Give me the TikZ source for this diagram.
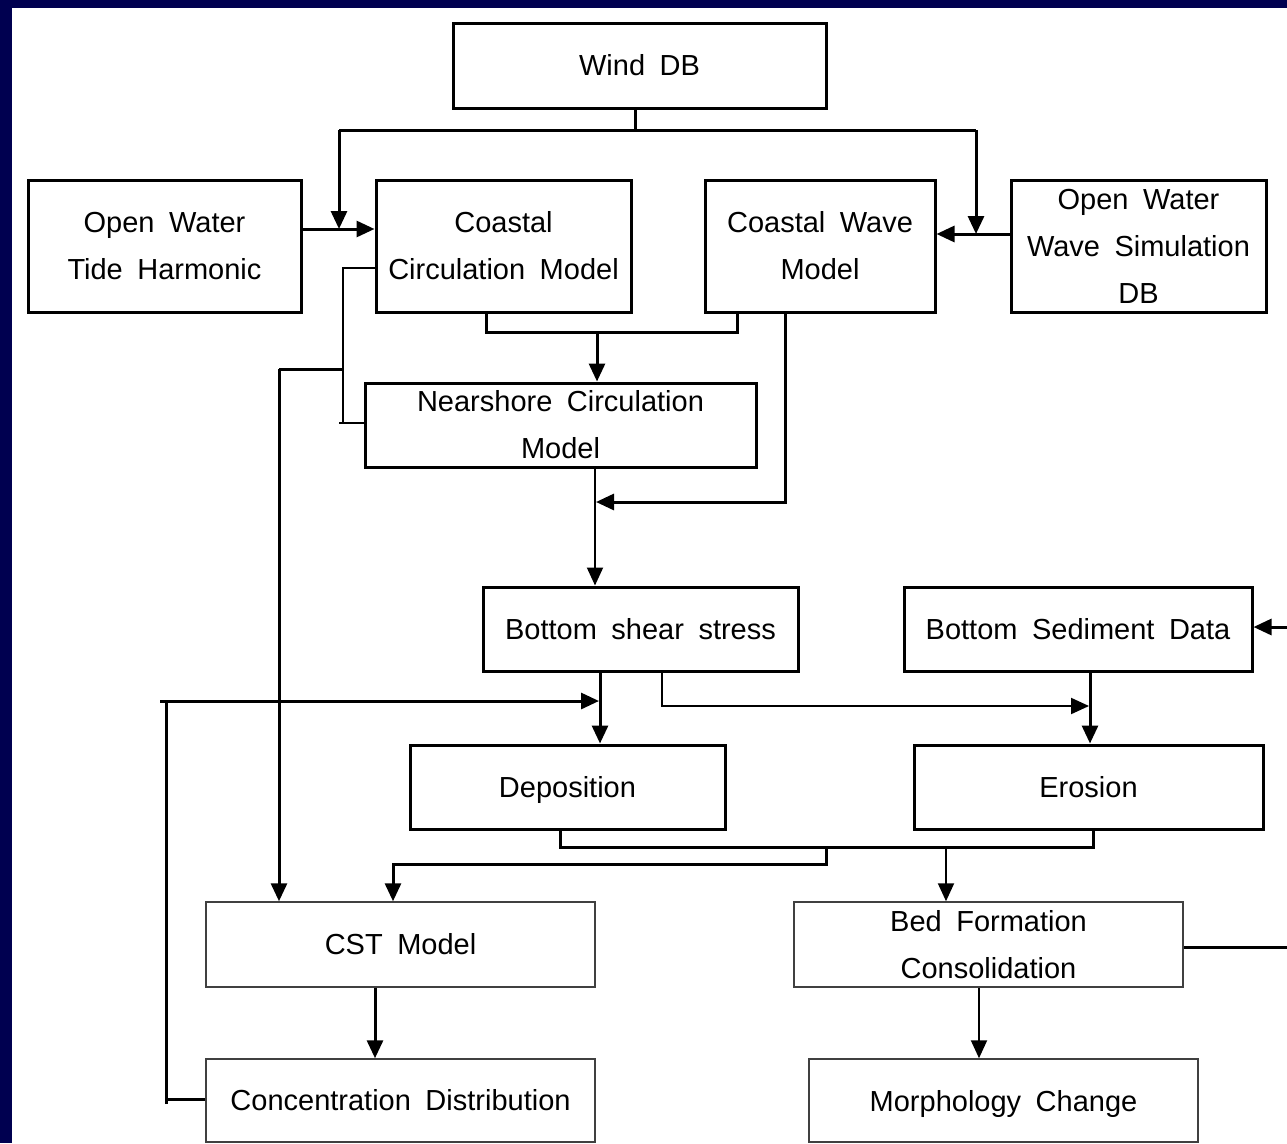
\documentclass[tikz,border=0pt]{standalone}
\usepackage{fontspec}
\setmainfont[WordSpace=1.8]{Liberation Sans}
\usetikzlibrary{arrows.meta}
\definecolor{navy}{RGB}{0,0,80}
\begin{document}
\begin{tikzpicture}[x=1pt,y=-1pt,
  every node/.style={font=\fontsize{29}{47}\selectfont},
  tbox/.style={draw=black,line width=3pt,fill=white,inner sep=0pt,align=center},
  lbox/.style={draw=black!75,line width=1.5pt,fill=white,inner sep=0pt,align=center},
  thk/.style={line width=3pt},
  thn/.style={line width=2pt},
  arr/.style={-{Triangle[length=18pt,width=16pt]}}]
\useasboundingbox (0,0) rectangle (1287,1143);
\fill[navy] (0,0) rectangle (1287,1143);
\fill[white] (12,8) rectangle (1287,1143);
% nodes
\node[tbox,minimum width=373,minimum height=85] (wind) at (639.5,65.5) {Wind DB};
\node[tbox,minimum width=273,minimum height=132] (tide) at (164.5,246) {Open Water\\Tide Harmonic};
\node[tbox,minimum width=255,minimum height=132] (ccm) at (503.5,246) {Coastal\\Circulation Model};
\node[tbox,minimum width=230,minimum height=132] (cwm) at (820,246) {Coastal Wave\\Model};
\node[tbox,minimum width=255,minimum height=132] (owws) at (1138.5,246) {Open Water\\Wave Simulation\\DB};
\node[tbox,minimum width=391,minimum height=84] (near) at (560.5,425) {Nearshore Circulation\\Model};
\node[tbox,minimum width=315,minimum height=84] (bss) at (640.5,629) {Bottom shear stress};
\node[tbox,minimum width=348,minimum height=84] (bsd) at (1078,629) {Bottom Sediment Data};
\node[tbox,minimum width=315,minimum height=84,text depth=0pt] (dep) at (567.5,787) {Deposition};
\node[tbox,minimum width=349,minimum height=84,text depth=0pt] (ero) at (1088.5,787) {Erosion};
\node[lbox,minimum width=389,minimum height=85] (cst) at (400.5,944.5) {CST Model};
\node[lbox,minimum width=389,minimum height=83] (cd) at (400.5,1100.5) {Concentration Distribution};
\node[lbox,minimum width=389,minimum height=85] (bfc) at (988.5,944.5) {Bed Formation\\Consolidation};
\node[lbox,minimum width=389,minimum height=83,text depth=0pt] (mc) at (1003.5,1100.5) {Morphology Change};
% free ends
\coordinate (wj) at (635,130);
\coordinate (wl) at (339,130);
\coordinate (wr) at (976,130);
\coordinate (redge1) at (1287,627);
\coordinate (redge2) at (1287,947);
% wind distribution
\draw[thk] (wj |- wind.south) -- (wj);
\draw[thk] (wl) -- (wr);
\draw[thk,arr] (wl) -- (339,229);
\draw[thk,arr] (wr) -- (976,234);
% tide -> ccm, owws -> cwm
\draw[thk,arr] (tide.east |- 0,229) -- (ccm.west |- 0,229);
\draw[thk,arr] (owws.west |- 0,234) -- (cwm.east |- 0,234);
% ccm & cwm -> nearshore
\draw[thk] (486,0 |- ccm.south) -- (486,332) -- (737,332) -- (737,0 |- cwm.south);
\draw[thk,arr] (597,332) -- (597,0 |- near.north);
% cwm -> bss junction
\draw[thk,arr] (785,0 |- cwm.south) -- (785,502) -- (596,502);
\draw[thn,arr] (595,0 |- near.south) -- (595,0 |- bss.north);
% ccm left -> nearshore & cst
\draw[thn] (ccm.west |- 0,268) -- (343,268) -- (343,423) -- (near.west |- 0,423);
\draw[thn] (339,423) -- (343,423);
\draw[thk] (343,369) -- (279,369);
\draw[thk,arr] (279,369) -- (279,0 |- cst.north);
% bss -> deposition, feedback from cd
\draw[thk,arr] (600,0 |- bss.south) -- (600,0 |- dep.north);
\draw[thk] (cd.west |- 0,1099) -- (166,1099);
\draw[thk] (166,1104) -- (166,701);
\draw[thk,arr] (160,701) -- (599,701);
% bss -> erosion, bsd -> erosion
\draw[thn,arr] (662,0 |- bss.south) -- (662,706) -- (1089,706);
\draw[thk,arr] (1090,0 |- bsd.south) -- (1090,0 |- ero.north);
\draw[thk,arr] (redge1) -- (bsd.east |- redge1);
% deposition/erosion -> cst & bfc
\draw[thk] (560,0 |- dep.south) -- (560,847) -- (1093,847) -- (1093,0 |- ero.south);
\draw[thk,arr] (826,847) -- (826,864) -- (393,864) -- (393,0 |- cst.north);
\draw[thn,arr] (946,847) -- (946,0 |- bfc.north);
% lower arrows
\draw[thk,arr] (375,0 |- cst.south) -- (375,0 |- cd.north);
\draw[thn,arr] (979,0 |- bfc.south) -- (979,0 |- mc.north);
\draw[thk] (bfc.east |- redge2) -- (redge2);
\end{tikzpicture}
\end{document}
